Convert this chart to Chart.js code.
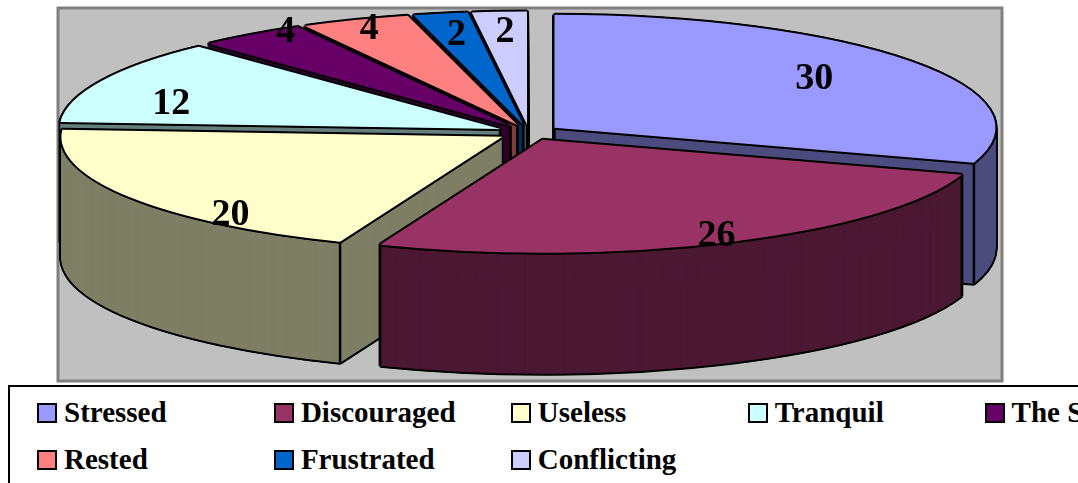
<!DOCTYPE html>
<html>
<head>
<meta charset="utf-8">
<title>Pie chart</title>
<script src="https://cdn.jsdelivr.net/npm/chart.js@4/dist/chart.umd.min.js"></script>
<style>
    html, body { margin: 0; padding: 0; background: #fff; overflow: hidden; }
    #wrap { position: relative; width: 1078px; height: 483px; overflow: hidden; }
    canvas { position: absolute; left: 0; top: 0; }
    #legend {
        position: absolute; left: 8px; top: 385px; width: 1200px; height: 120px;
        border: 2px solid #000; box-sizing: border-box; padding: 2px 0 0 27px;
        display: grid; grid-template-columns: repeat(5, 236.9px); grid-auto-rows: 47px;
        font: bold 29px "Liberation Serif", serif; color: #000; background: #fff;
    }
    .item { display: flex; align-items: center; white-space: nowrap; }
    .swatch { width: 20px; height: 20px; box-sizing: border-box; border: 2px solid #000; margin-right: 7px; flex: none; }
</style>
</head>
<body>
<div id="wrap">
    <canvas id="pieChart" width="1078" height="483"></canvas>
    <div id="legend"></div>
</div>
<script>
const categories = ['Stressed', 'Discouraged', 'Useless', 'Tranquil', 'The Same', 'Rested', 'Frustrated', 'Conflicting'];
const values = [30, 26, 20, 12, 4, 4, 2, 2];
const topColors = ['#9999FF', '#993366', '#FFFFCC', '#CCFFFF', '#660066', '#FF8080', '#0066CC', '#CCCCFF'];
const wallColors = ['#4C4C7F', '#4C1933', '#7F7F66', '#667F7F', '#330033', '#7F4040', '#003366', '#66667F'];

// label spot for each slice: share of the radius, then a nudge down in px
const labelRadius = [0.728, 0.927, 0.73, 0.825, 0.867, 0.912, 0.807, 0.792];
const labelDrop = [0, 2, 34, 15, -14.5, 0, 0.5, -3];

const tilt = 0.256;      // squash of the circle into an ellipse
const depth = 121;       // height of the wall
const explode = 31.5;    // how far slices are pulled out
const pieShiftX = -1;
const pieY = 132.5;
const edge = 2;          // outline thickness

function screenPoint(arc, angle, r) {
    const mid = (arc.startAngle + arc.endAngle) / 2;
    return {
        x: arc.x + pieShiftX + Math.cos(mid) * explode + Math.cos(angle) * r,
        y: pieY + (Math.sin(mid) * explode + Math.sin(angle) * r) * tilt
    };
}

// one flat copy of a slice, moved by dx/dy in screen pixels
function paint(ctx, arc, color, dx, dy) {
    const mid = (arc.startAngle + arc.endAngle) / 2;
    const saved = arc.options;
    arc.options = Object.assign({}, saved, { backgroundColor: color, borderWidth: 0 });
    ctx.save();
    ctx.translate(arc.x + pieShiftX + dx, pieY + dy);
    ctx.scale(1, tilt);
    ctx.translate(Math.cos(mid) * explode - arc.x, Math.sin(mid) * explode - arc.y);
    arc.draw(ctx);
    ctx.restore();
    arc.options = saved;
}

function drawSlice(ctx, arc, wall, top) {
    // outline of the wall, the fill goes over it
    for (let d = 0; d <= depth; d++) {
        paint(ctx, arc, '#000', -edge, d);
        paint(ctx, arc, '#000', edge, d);
    }
    paint(ctx, arc, '#000', 0, depth + edge);
    paint(ctx, arc, '#000', -1.4, depth + 1.4);
    paint(ctx, arc, '#000', 1.4, depth + 1.4);
    // half pixel steps so the outline does not bleed through as streaks
    for (let d = depth; d >= 0; d -= 0.5) paint(ctx, arc, wall, 0, d);

    // vertical edges, only the ones that face the viewer
    const mid = (arc.startAngle + arc.endAngle) / 2;
    const edges = [];
    if (Math.sin(arc.startAngle) > 0) edges.push([arc.startAngle, arc.outerRadius]);
    if (Math.sin(arc.endAngle) > 0) edges.push([arc.endAngle, arc.outerRadius]);
    if (Math.sin(mid) < 0) edges.push([mid, 0]);
    ctx.save();
    ctx.strokeStyle = '#000';
    ctx.lineWidth = 2.5;
    edges.forEach(([a, r]) => {
        const p = screenPoint(arc, a, r);
        ctx.beginPath();
        ctx.moveTo(p.x, p.y);
        ctx.lineTo(p.x, p.y + depth);
        ctx.stroke();
    });
    ctx.restore();

    // top face
    [[-edge, 0], [edge, 0], [0, -edge], [0, edge], [-1.4, -1.4], [1.4, -1.4], [-1.4, 1.4], [1.4, 1.4]].forEach(([dx, dy]) => {
        paint(ctx, arc, '#000', dx, dy);
    });
    paint(ctx, arc, top, 0, 0);
}

const pie3d = {
    id: 'pie3d',
    beforeDatasetsDraw(chart) {
        const { ctx, chartArea: area } = chart;
        const arcs = chart.getDatasetMeta(0).data;

        // panel behind the pie
        ctx.save();
        ctx.fillStyle = '#C0C0C0';
        ctx.strokeStyle = '#808080';
        ctx.lineWidth = 3;
        ctx.fillRect(area.left, area.top, area.width, area.height);
        ctx.strokeRect(area.left, area.top, area.width, area.height);
        ctx.restore();

        // back slices first
        const order = arcs.map((a, i) => i).sort((a, b) => {
            const midA = (arcs[a].startAngle + arcs[a].endAngle) / 2;
            const midB = (arcs[b].startAngle + arcs[b].endAngle) / 2;
            return Math.sin(midA) - Math.sin(midB);
        });
        order.forEach(i => drawSlice(ctx, arcs[i], wallColors[i], topColors[i]));

        ctx.save();
        ctx.fillStyle = '#000';
        ctx.font = 'bold 38px "Liberation Serif", serif';
        ctx.textAlign = 'center';
        ctx.textBaseline = 'middle';
        arcs.forEach((arc, i) => {
            const mid = (arc.startAngle + arc.endAngle) / 2;
            const p = screenPoint(arc, mid, arc.outerRadius * labelRadius[i]);
            ctx.fillText(String(values[i]), p.x, p.y + labelDrop[i]);
        });
        ctx.restore();
        return false;
    }
};

new Chart(document.getElementById('pieChart').getContext('2d'), {
    type: 'pie',
    data: {
        labels: categories,
        datasets: [{ data: values, backgroundColor: topColors, borderWidth: 0 }]
    },
    options: {
        responsive: false,
        animation: false,
        devicePixelRatio: 1,
        radius: 441,
        layout: { padding: { left: 58, right: 76, top: 8, bottom: 102 } },
        plugins: { legend: { display: false }, tooltip: { enabled: false } }
    },
    plugins: [pie3d]
});

// legend
const legendBox = document.getElementById('legend');
categories.forEach((name, i) => {
    const item = document.createElement('div');
    item.className = 'item';
    const swatch = document.createElement('span');
    swatch.className = 'swatch';
    swatch.style.background = topColors[i];
    item.appendChild(swatch);
    item.appendChild(document.createTextNode(name));
    legendBox.appendChild(item);
});
</script>
</body>
</html>
